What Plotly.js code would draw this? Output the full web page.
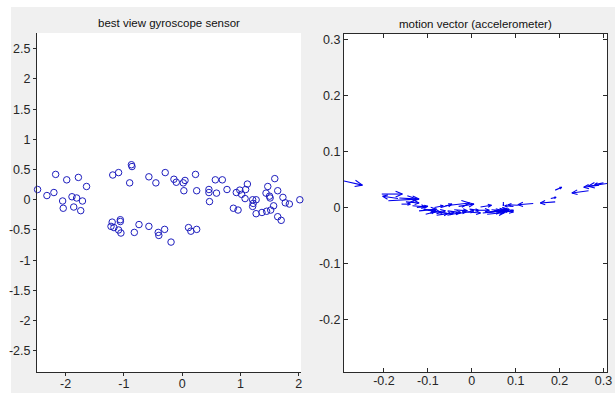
<!DOCTYPE html>
<html><head><meta charset="utf-8">
<script src="https://cdn.plot.ly/plotly-3.0.1.min.js"></script>
<style>html,body{margin:0;padding:0;background:#fff}</style>
</head><body><div id="chart" style="width:615px;height:393px"></div>
<script>
// Gyroscope scatter (left panel)
const gyroX = [-2.48,-2.32,-2.20,-2.17,-2.05,-2.04,-1.98,-1.89,-1.86,-1.81,-1.78,-1.74,-1.71,-1.64,-1.19,-1.09,-0.90,-0.87,-0.86,-0.57,-0.45,-0.29,-0.14,-0.10,0.02,0.05,0.03,0.23,0.25,0.46,0.46,0.47,0.57,0.59,0.69,0.77,0.88,0.93,0.96,0.99,1.02,1.09,1.08,1.12,1.21,1.22,1.21,1.27,1.27,1.37,1.45,1.44,1.47,1.50,1.51,1.52,1.57,1.59,1.64,1.64,1.70,1.73,1.77,1.84,2.02,
  -1.22,-1.20,-1.17,-1.09,-1.06,-1.06,-1.05,-0.82,-0.74,-0.57,-0.41,-0.40,-0.30,-0.19,0.11,0.15,0.25];
const gyroY = [0.17,0.07,0.12,0.42,-0.02,-0.14,0.33,0.05,-0.12,0.03,0.37,-0.18,-0.02,0.22,0.41,0.45,0.28,0.58,0.55,0.38,0.28,0.45,0.34,0.29,0.28,0.32,0.15,0.42,0.15,0.17,0.12,-0.03,0.33,0.11,0.33,0.17,-0.14,0.12,-0.17,0.16,0.09,0.17,0.02,0.26,0.00,-0.06,-0.11,0.00,-0.23,-0.21,-0.19,0.11,0.22,0.06,0.03,-0.17,-0.10,0.35,0.15,-0.28,-0.34,0.04,-0.05,-0.07,0.00,
  -0.44,-0.37,-0.46,-0.50,-0.33,-0.36,-0.55,-0.54,-0.41,-0.44,-0.54,-0.59,-0.49,-0.70,-0.46,-0.52,-0.49];

// Accelerometer motion vectors (right panel): base point and vector
const accX = [-0.300,-0.205,-0.168,-0.190,-0.165,-0.160,-0.135,-0.125,-0.120,-0.100,-0.095,-0.085,-0.075,-0.070,-0.060,-0.060,-0.040,-0.030,-0.020,-0.005,0.010,0.025,0.030,0.040,0.050,0.045,0.060,0.072,0.105,0.140,0.190,0.180,0.190,0.266,0.310,0.290,0.300,-0.110,-0.050,
  -0.105,-0.080,-0.055,-0.035,-0.010,0.035,0.055,0.065,0.080,0.095,-0.150,0.020];
const accY = [0.049,0.024,0.016,0.012,0.017,0.006,0.003,0.000,-0.006,-0.005,-0.010,0.000,-0.008,0.000,-0.012,0.003,-0.004,0.002,-0.010,-0.003,-0.005,-0.010,-0.008,-0.009,-0.006,-0.004,-0.008,0.010,0.004,0.007,0.010,0.016,0.031,0.030,0.043,0.040,0.044,-0.003,-0.013,
  -0.012,-0.014,-0.006,-0.012,-0.008,-0.012,-0.010,-0.005,-0.007,0.002,0.010,0.001];
const accU = [0.051,0.047,-0.035,0.065,0.045,0.020,0.030,0.025,0.040,0.030,0.035,0.020,0.030,0.025,0.020,0.055,0.030,0.035,0.025,0.020,0.030,0.045,0.050,0.045,0.030,0.030,0.025,0.000,-0.022,-0.035,-0.034,0.012,0.015,-0.038,-0.045,-0.035,-0.020,0.030,0.020,
  0.020,0.025,0.030,0.020,0.030,0.040,0.025,0.030,0.015,-0.020,0.030,0.025];
const accV = [-0.009,0.000,0.004,0.003,-0.002,0.000,-0.002,0.002,0.003,-0.004,0.004,0.003,-0.004,0.006,0.003,0.005,-0.002,0.004,0.004,-0.002,0.000,0.004,0.002,0.006,0.003,-0.002,0.002,-0.007,0.001,-0.002,-0.002,0.002,0.005,-0.004,-0.005,-0.004,-0.003,-0.004,0.003,
  0.004,0.003,-0.003,0.004,-0.002,0.003,0.004,-0.003,0.002,0.001,-0.002,0.003];

const leftXTicks = [-2,-1,0,1,2];
const leftXText = ['-2','-1','0','1','2'];
const leftYTicks = [-2.5,-2,-1.5,-1,-0.5,0,0.5,1,1.5,2,2.5];
const leftYText = ['-2.5','-2','-1.5','-1','-0.5','0','0.5','1','1.5','2','2.5'];
const rightXTicks = [-0.2,-0.1,0,0.1,0.2,0.3];
const rightXText = ['-0.2','-0.1','0','0.1','0.2','0.3'];
const rightYTicks = [-0.2,-0.1,0,0.1,0.2,0.3];
const rightYText = ['-0.2','-0.1','0','0.1','0.2','0.3'];
const titles = ['best view gyroscope sensor','motion vector (accelerometer)'];

function quiver(x, y, u, v) {
  const px = [], py = [];
  const a = 0.33, b = 0.33;
  for (let i = 0; i < x.length; i++) {
    const x1 = x[i] + u[i], y1 = y[i] + v[i];
    px.push(x[i], x1, null); py.push(y[i], y1, null);
    px.push(x1 - a*(u[i] + b*v[i]), x1, x1 - a*(u[i] - b*v[i]), null);
    py.push(y1 - a*(v[i] - b*u[i]), y1, y1 - a*(v[i] + b*u[i]), null);
  }
  return {px, py};
}
const q = quiver(accX, accY, accU, accV);

const W = 615, H = 393;
const font = {family: 'Liberation Sans, Arial, sans-serif', size: 12.5, color: '#262626'};
const axCol = '#2a2a2a';

const data = [
  {type:'scatter', mode:'markers', x: gyroX, y: gyroY, xaxis:'x', yaxis:'y',
   marker:{symbol:'circle-open', size:6.5, color:'rgb(30,30,190)', line:{width:1, color:'rgb(30,30,190)'}},
   hoverinfo:'skip', cliponaxis:false},
  {type:'scatter', mode:'lines', x: q.px, y: q.py, xaxis:'x2', yaxis:'y2',
   line:{color:'rgb(0,0,235)', width:1.1}, hoverinfo:'skip', connectgaps:false}
];

const layout = {
  width: W, height: H, margin:{l:0,r:0,t:0,b:0},
  paper_bgcolor:'#f0f0f0', plot_bgcolor:'#ffffff', showlegend:false, font: font,
  xaxis:{domain:[37/W, 301/W], range:[-2.49, 2.04], anchor:'y', showgrid:false, zeroline:false,
    showline:true, linecolor:axCol, linewidth:1, ticks:'outside', ticklen:3, tickcolor:axCol,
    tickvals:leftXTicks, ticktext:leftXText, tickfont:font, ticklabelstandoff:-3},
  yaxis:{domain:[1-372/H, 1-33/H], range:[-2.85, 2.76], anchor:'x', showgrid:false, zeroline:false,
    showline:true, linecolor:axCol, linewidth:1, ticks:'outside', ticklen:3, tickcolor:axCol,
    tickvals:leftYTicks, ticktext:leftYText, tickfont:font},
  xaxis2:{domain:[344/W, 607/W], range:[-0.291, 0.308], anchor:'y2', showgrid:false, zeroline:false,
    showline:true, mirror:'ticks', linecolor:axCol, linewidth:1, ticks:'inside', ticklen:4, tickcolor:axCol,
    tickvals:rightXTicks, ticktext:rightXText, tickfont:font, ticklabelstandoff:-3},
  yaxis2:{domain:[1-372/H, 1-34/H], range:[-0.294, 0.31], anchor:'x2', showgrid:false, zeroline:false,
    showline:true, mirror:'ticks', linecolor:axCol, linewidth:1, ticks:'inside', ticklen:4, tickcolor:axCol,
    tickvals:rightYTicks, ticktext:rightYText, tickfont:font},
  shapes:[
    {type:'rect', xref:'paper', yref:'paper', x0:0, x1:11/W, y0:0, y1:1, fillcolor:'#ffffff', line:{width:0}, layer:'below'},
    {type:'rect', xref:'paper', yref:'paper', x0:0, x1:1, y0:1-7/H, y1:1, fillcolor:'#ffffff', line:{width:0}, layer:'below'}
  ],
  annotations:[
    {text:titles[0], xref:'paper', yref:'paper', x:169/W, y:1-23/H, xanchor:'center', yanchor:'middle', showarrow:false, font:{family:font.family, size:11.5, color:'#111'}},
    {text:titles[1], xref:'paper', yref:'paper', x:475/W, y:1-24/H, xanchor:'center', yanchor:'middle', showarrow:false, font:{family:font.family, size:11.5, color:'#111'}}
  ]
};

Plotly.newPlot('chart', data, layout, {staticPlot:true, displayModeBar:false});
</script></body></html>
